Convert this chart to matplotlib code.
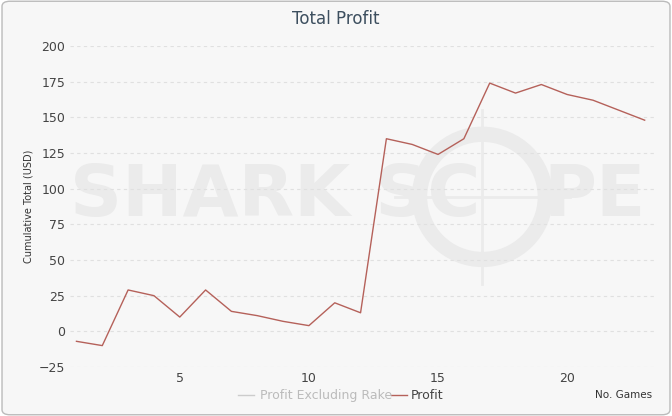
import matplotlib
matplotlib.use("Agg")
import matplotlib.pyplot as plt
from matplotlib.patches import FancyBboxPatch, Ellipse

games = list(range(1, 24))
profit = [-7, -10, 29, 25, 10, 29, 14, 11, 7, 4, 20, 13, 135, 131, 124, 135, 174, 167, 173, 166, 162, 155, 148]
yticks = [-25, 0, 25, 50, 75, 100, 125, 150, 175, 200]
xticks = [5, 10, 15, 20]

fig = plt.figure(figsize=(6.72, 4.16), dpi=100)
fig.patch.set_facecolor("white")
bg = FancyBboxPatch((0.003, 0.003), 0.994, 0.994, boxstyle="round,pad=0,rounding_size=0.012",
                    transform=fig.transFigure, facecolor="#f7f7f7", edgecolor="#bbbbbb", lw=1, zorder=-10)
fig.patches.append(bg)
ax = fig.add_axes([70/672, 49/416, 585/672, 321/416])
ax.set_facecolor("none")
ax.set_xlim(0.75, 23.4)
ax.set_ylim(-25, 200)
ax.set_yticks(yticks)
ax.set_xticks(xticks)
ax.grid(axis="y", color="#e0e0e0", linestyle=(0, (3, 3)), lw=0.8)
for s in ax.spines.values():
    s.set_visible(False)
ax.tick_params(length=0, labelsize=9, colors="#444444")
wm = "#ebebeb"
ax.text(0.0, 0.53, "SHARK SC", transform=ax.transAxes, ha="left", va="center",
        fontsize=52, fontweight="bold", color=wm, zorder=0)
ax.text(0.985, 0.53, "PE", transform=ax.transAxes, ha="right", va="center",
        fontsize=52, fontweight="bold", color=wm, zorder=0)
cx, cy = 0.705, 0.53
ax.add_patch(Ellipse((cx, cy), 0.215, 0.39, transform=ax.transAxes, fill=False, ec=wm, lw=11, zorder=0))
ax.plot([cx - 0.15, cx + 0.15], [cy, cy], transform=ax.transAxes, color=wm, lw=2, zorder=0)
ax.plot([cx, cx], [cy - 0.27, cy + 0.27], transform=ax.transAxes, color=wm, lw=2, zorder=0)
ax.plot(games, profit, color="#b5615a", lw=1)
ax.set_ylabel("Cumulative Total (USD)", fontsize=7, color="#333333")
fig.text(0.5, 0.955, "Total Profit", ha="center", va="center", fontsize=12, color="#3d4f5f")
fig.text(0.97, 0.05, "No. Games", ha="right", va="center", fontsize=7.5, color="#333333")
fig.lines.append(plt.Line2D([238/672, 254/672], [0.05, 0.05], color="#cccccc", lw=1, transform=fig.transFigure))
fig.text(260/672, 0.05, "Profit Excluding Rake", va="center", fontsize=9, color="#bbbbbb")
fig.lines.append(plt.Line2D([391/672, 407/672], [0.05, 0.05], color="#b5615a", lw=1, transform=fig.transFigure))
fig.text(411/672, 0.05, "Profit", va="center", fontsize=9, color="#444444")
fig.savefig("out.png", dpi=100)
